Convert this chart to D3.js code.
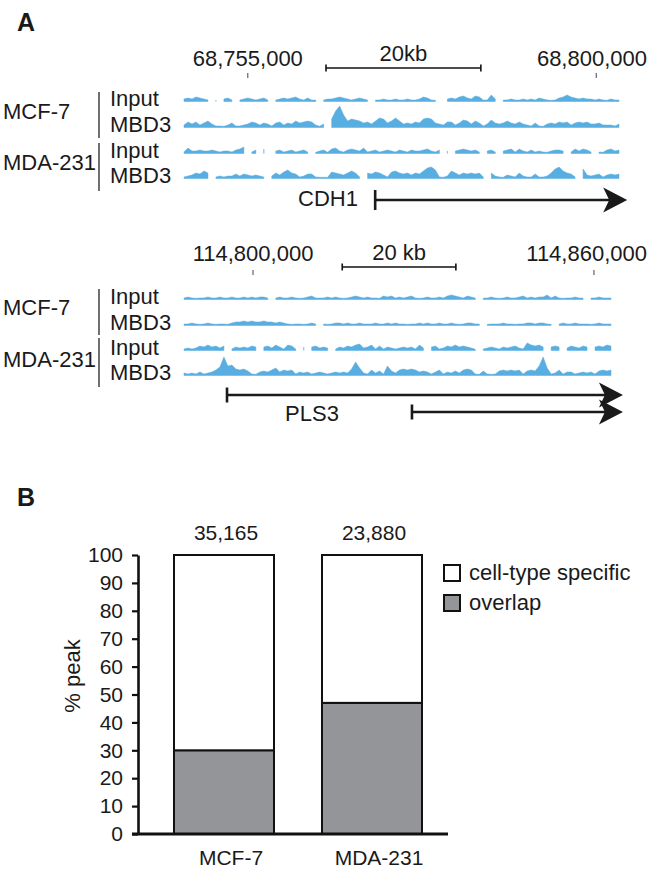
<!DOCTYPE html>
<html><head><meta charset="utf-8">
<script src="https://cdn.jsdelivr.net/npm/d3@7"></script>
<style>
body{margin:0;background:#fff}
text{font-family:"Liberation Sans",Arial,Helvetica,sans-serif;fill:#1a1a1a}
</style>
</head><body>
<svg id="fig" width="650" height="871"></svg>
<script>
// ---------------- DATA ----------------
// Locus 1 (CDH1)
const cdh1Domain = [68746500, 68803200];
const cdh1Ticks = [68755000, 68800000];
const cdh1ScaleBar = [68765100, 68785100];
const cdh1ScaleLabel = "20kb";
const cdh1Genes = [{name: "CDH1", start: 68771450, end: 68804000}];
const cdh1Mcf7Input = [2,3,2,4,3,2,1,null,1,null,2,3,1,null,1,2,3,2,1,2,3,1,null,1,2,3,2,3,4,2,1,3,1,1,null,1,2,2,3,4,3,2,1,2,3,2,1,null,1,1,2,1,1,2,1,1,2,1,1,2,4,3,1,0,null,null,2,3,2,4,5,3,2,5,4,1,1,6,2,null,1,1,2,1,1,2,1,2,1,3,2,1,0,1,3,4,6,4,3,2,3,2,2,1,2,1,0,2,1,1];
const cdh1Mcf7Mbd3 = [2,5,3,5,2,4,6,3,1,1,0,2,4,1,1,2,3,5,4,2,4,3,1,4,5,2,4,3,6,4,5,6,5,2,0,3,null,8,16,21,12,6,8,7,6,4,5,3,6,9,8,4,6,9,6,3,4,3,5,4,8,9,8,4,3,2,5,5,2,4,7,6,3,6,4,1,3,7,4,3,4,6,4,3,5,3,2,1,4,1,0,3,4,3,5,4,5,2,4,5,4,5,3,3,4,2,2,2,1,3];
const cdh1MdaInput = [1,5,2,2,3,2,2,3,2,1,2,2,1,3,4,6,null,1,3,null,4,null,null,2,3,1,2,3,1,2,3,1,null,0,2,3,0,4,5,2,1,3,4,3,2,5,1,2,3,1,2,3,2,1,3,2,1,3,2,2,3,4,2,1,3,null,2,null,2,3,4,3,2,3,1,null,2,3,1,null,2,3,4,1,4,2,1,3,1,2,1,0,2,3,3,2,null,1,4,2,4,3,1,null,1,0,3,4,2,3];
const cdh1MdaMbd3 = [1,2,3,5,4,7,5,null,1,2,1,2,2,4,2,4,3,2,3,2,1,null,2,5,3,6,8,5,4,1,2,4,4,1,0,0,0,6,5,4,3,5,7,5,1,null,5,4,6,5,3,1,6,7,5,4,5,3,5,4,7,10,11,8,1,0,2,7,5,3,5,4,5,4,5,1,null,5,2,1,0,3,2,1,5,2,1,1,4,1,1,2,5,9,11,7,5,4,1,null,9,3,2,3,4,1,3,4,3,4];

// Locus 2 (PLS3)
const pls3Domain = [114787500, 114863350];
const pls3Ticks = [114800000, 114860000];
const pls3ScaleBar = [114815700, 114835700];
const pls3ScaleLabel = "20 kb";
const pls3Genes = [{name: "PLS3", start: 114795420, end: 114865100},
                   {name: "", start: 114827970, end: 114865100}];
const pls3Mcf7Input = [1,2,1,0,1,1,2,1,1,2,1,1,2,1,1,2,1,2,1,2,2,1,null,1,2,1,1,2,1,0,1,2,3,1,1,1,2,1,2,1,0,1,2,3,2,1,2,1,1,0,3,2,3,1,2,1,2,3,1,0,1,2,1,1,2,1,3,4,3,2,1,3,2,1,null,1,1,2,1,0,1,2,1,1,2,3,1,2,1,2,2,4,1,3,1,0,1,1,2,1,1,null,1,1,2,1,1,1];
const pls3Mcf7Mbd3 = [1,1,2,1,0,1,2,1,0,1,1,0,2,3,3,4,3,4,3,3,4,3,3,2,3,2,1,0,1,1,0,1,2,1,null,1,0,1,2,2,1,2,1,1,2,1,1,1,2,1,1,2,1,2,1,1,0,1,1,2,1,2,1,1,2,1,1,2,1,0,1,2,2,1,1,null,0,1,1,1,2,1,1,0,1,1,2,2,1,2,2,1,0,null,1,2,1,1,2,1,1,1,0,1,2,1,1,1];
const pls3MdaInput = [1,2,1,2,4,3,5,3,4,2,4,null,1,3,2,3,2,4,3,null,3,4,2,5,3,1,5,4,1,null,3,null,3,4,2,3,2,null,1,3,2,4,3,5,6,2,3,5,1,4,1,3,2,1,2,3,2,3,1,5,2,null,3,4,1,2,4,3,5,3,4,3,2,0,null,1,2,3,2,1,3,2,3,4,2,1,7,5,4,5,3,null,3,4,3,null,2,4,3,2,4,3,null,3,4,3,5,4];
const pls3MdaMbd3 = [2,1,2,1,3,1,2,3,5,8,18,9,10,6,5,6,4,1,0,3,4,3,5,7,3,5,4,5,1,3,2,3,1,2,3,2,1,2,3,2,3,2,6,13,7,2,1,5,2,4,1,9,4,2,5,6,5,6,5,3,4,3,1,3,5,1,3,2,4,2,5,6,5,1,0,4,1,0,1,4,5,4,5,4,5,1,4,5,4,9,18,7,1,2,5,1,3,3,1,2,3,2,3,1,4,5,4,5];

const cellLines = ["MCF-7", "MDA-231"];
const trackNames = ["Input", "MBD3", "Input", "MBD3"];

// Panel B
const categories = ["MCF-7", "MDA-231"];
const overlapPct = [30, 47];
const specificPct = [70, 53];
const peakTotals = ["35,165", "23,880"];
const yTicks = [0,10,20,30,40,50,60,70,80,90,100];
const legendLabels = ["cell-type specific", "overlap"];

// ---------------- DRAWING ----------------
const svg = d3.select("#fig");
svg.append("rect").attr("width", 650).attr("height", 871).attr("fill", "#fff");
const trackColor = "#58aee0";
const fmt = d3.format(",");

svg.append("text").attr("x", 17).attr("y", 31).attr("font-size", 25).attr("font-weight", "bold").text("A");
svg.append("text").attr("x", 17).attr("y", 506).attr("font-size", 25).attr("font-weight", "bold").text("B");

function drawLocus(cfg) {
  const g = svg.append("g");
  const x = d3.scaleLinear().domain(cfg.domain).range(cfg.xRange);
  // coordinate labels + ticks
  cfg.ticks.forEach(t => {
    const tx = g.append("text").attr("x", x(t)).attr("y", cfg.coordY).attr("text-anchor", "middle")
      .attr("font-size", 22).text(fmt(t));
    const w = tx.node().getComputedTextLength();
    if (x(t) + w / 2 > 647) tx.attr("x", 647 - w / 2);
    g.append("line").attr("x1", x(t)).attr("x2", x(t)).attr("y1", cfg.tickY).attr("y2", cfg.tickY + 5)
      .attr("stroke", "#444").attr("stroke-width", 1);
  });
  // scale bar
  const sb = cfg.scaleBar.map(x);
  const sy = cfg.scaleY;
  g.append("line").attr("x1", sb[0]).attr("x2", sb[1]).attr("y1", sy).attr("y2", sy).attr("stroke", "#111").attr("stroke-width", 1.6);
  sb.forEach(v => g.append("line").attr("x1", v).attr("x2", v).attr("y1", sy - 3.5).attr("y2", sy + 3.5).attr("stroke", "#111").attr("stroke-width", 1.6));
  g.append("text").attr("x", (sb[0] + sb[1]) / 2).attr("y", sy - 7).attr("text-anchor", "middle").attr("font-size", 22).text(cfg.scaleLabel);

  // tracks
  const h = d3.scaleLinear().domain([0, 21]).range([0, 21]);
  cfg.tracks.forEach((data, k) => {
    const base = cfg.baselines[k];
    const bx = d3.scaleLinear().domain([0, data.length - 1]).range([cfg.xRange[0] + 2, cfg.xRange[1] - 2]);
    const area = d3.area()
      .defined(d => d !== null)
      .x((d, i) => bx(i))
      .y0(base + 0.5)
      .y1(d => base - h(Math.max(d, 0.7)))
      .curve(d3.curveLinear);
    g.append("path").datum(data).attr("d", area).attr("fill", trackColor).attr("stroke", trackColor).attr("stroke-width", 0.5);
    g.append("text").attr("x", 110).attr("y", base + 5).attr("font-size", 22).text(trackNames[k]);
  });
  // cell line labels and brackets
  cellLines.forEach((c, k) => {
    g.append("text").attr("x", 3).attr("y", cfg.cellY[k]).attr("font-size", 22).text(c);
    g.append("line").attr("x1", 99).attr("x2", 99).attr("y1", cfg.brackets[k][0]).attr("y2", cfg.brackets[k][1])
      .attr("stroke", "#333").attr("stroke-width", 1.4);
  });
  // genes
  cfg.genes.forEach((gene, k) => {
    const y = cfg.geneY[k];
    const x0 = x(gene.start), x1 = x(gene.end);
    g.append("line").attr("x1", x0).attr("x2", x1 - 12).attr("y1", y).attr("y2", y).attr("stroke", "#1a1a1a").attr("stroke-width", 2.6);
    g.append("line").attr("x1", x0).attr("x2", x0).attr("y1", y - cfg.geneTick).attr("y2", y + cfg.geneTick).attr("stroke", "#1a1a1a").attr("stroke-width", 2.6);
    const aw = 24, ah = 12.5;
    g.append("path").attr("d", `M${x1},${y} L${x1 - aw},${y - ah} L${x1 - aw + 6},${y} L${x1 - aw},${y + ah} Z`).attr("fill", "#1a1a1a");
  });
  g.append("text").attr("x", cfg.geneLabel[0]).attr("y", cfg.geneLabel[1]).attr("text-anchor", cfg.geneLabel[2])
    .attr("font-size", 22).text(cfg.genes[0].name);
}

drawLocus({
  domain: cdh1Domain, xRange: [182, 621], ticks: cdh1Ticks, coordY: 66, tickY: 73,
  scaleBar: cdh1ScaleBar, scaleLabel: cdh1ScaleLabel, scaleY: 68,
  tracks: [cdh1Mcf7Input, cdh1Mcf7Mbd3, cdh1MdaInput, cdh1MdaMbd3],
  baselines: [101, 127, 153, 178], cellY: [119, 170], brackets: [[92, 138], [143, 191]],
  genes: cdh1Genes, geneY: [200], geneTick: 10, geneLabel: [358, 206, "end"]
});
drawLocus({
  domain: pls3Domain, xRange: [182, 613], ticks: pls3Ticks, coordY: 261, tickY: 270,
  scaleBar: pls3ScaleBar, scaleLabel: pls3ScaleLabel, scaleY: 267,
  tracks: [pls3Mcf7Input, pls3Mcf7Mbd3, pls3MdaInput, pls3MdaMbd3],
  baselines: [299, 325, 350, 375], cellY: [315, 367], brackets: [[289, 335], [338, 387]],
  genes: pls3Genes, geneY: [395, 412], geneTick: 7.5, geneLabel: [312, 421, "middle"]
});

// ---------------- PANEL B ----------------
const yS = d3.scaleLinear().domain([0, 100]).range([834, 555]);
const xS = d3.scaleBand().domain(categories).range([137, 459]).paddingInner(0.3243).paddingOuter(0.25);
const gb = svg.append("g");

categories.forEach((c, i) => {
  gb.append("rect").attr("x", xS(c)).attr("width", xS.bandwidth())
    .attr("y", yS(overlapPct[i])).attr("height", yS(0) - yS(overlapPct[i]))
    .attr("fill", "#939598").attr("stroke", "#111").attr("stroke-width", 2);
  gb.append("rect").attr("x", xS(c)).attr("width", xS.bandwidth())
    .attr("y", yS(overlapPct[i] + specificPct[i])).attr("height", yS(overlapPct[i]) - yS(overlapPct[i] + specificPct[i]))
    .attr("fill", "#fff").attr("stroke", "#111").attr("stroke-width", 2);
  gb.append("text").attr("x", xS(c) + xS.bandwidth() / 2 + 2).attr("y", 540).attr("text-anchor", "middle")
    .attr("font-size", 21).text(peakTotals[i]);
});

const yAxis = gb.append("g").attr("transform", "translate(138,0)")
  .call(d3.axisLeft(yS).tickValues(yTicks).tickSize(6).tickSizeOuter(0).tickPadding(9));
yAxis.select(".domain").attr("stroke", "#111").attr("stroke-width", 2.6);
yAxis.selectAll(".tick line").attr("stroke", "#111").attr("stroke-width", 2.2);
yAxis.selectAll(".tick text").attr("font-size", 21).attr("font-family", "Liberation Sans, Arial, sans-serif").attr("fill", "#1a1a1a");

const xAxis = gb.append("g").attr("transform", "translate(0,834)")
  .call(d3.axisBottom(xS).tickSize(0).tickPadding(16));
xAxis.select(".domain").remove();
xAxis.selectAll(".tick text").attr("font-size", 21).attr("dx", 7).attr("font-family", "Liberation Sans, Arial, sans-serif").attr("fill", "#1a1a1a");
gb.append("line").attr("x1", 132).attr("x2", 448).attr("y1", 834).attr("y2", 834).attr("stroke", "#111").attr("stroke-width", 3);

gb.append("text").attr("transform", "translate(80,676) rotate(-90)").attr("text-anchor", "middle")
  .attr("font-size", 22).text("% peak");

legendLabels.forEach((l, i) => {
  gb.append("rect").attr("x", 444).attr("y", 565 + i * 30).attr("width", 16).attr("height", 16)
    .attr("fill", i === 0 ? "#fff" : "#939598").attr("stroke", "#111").attr("stroke-width", 2);
  gb.append("text").attr("x", 469).attr("y", 580 + i * 30).attr("font-size", 22).text(l);
});
</script>
</body></html>
